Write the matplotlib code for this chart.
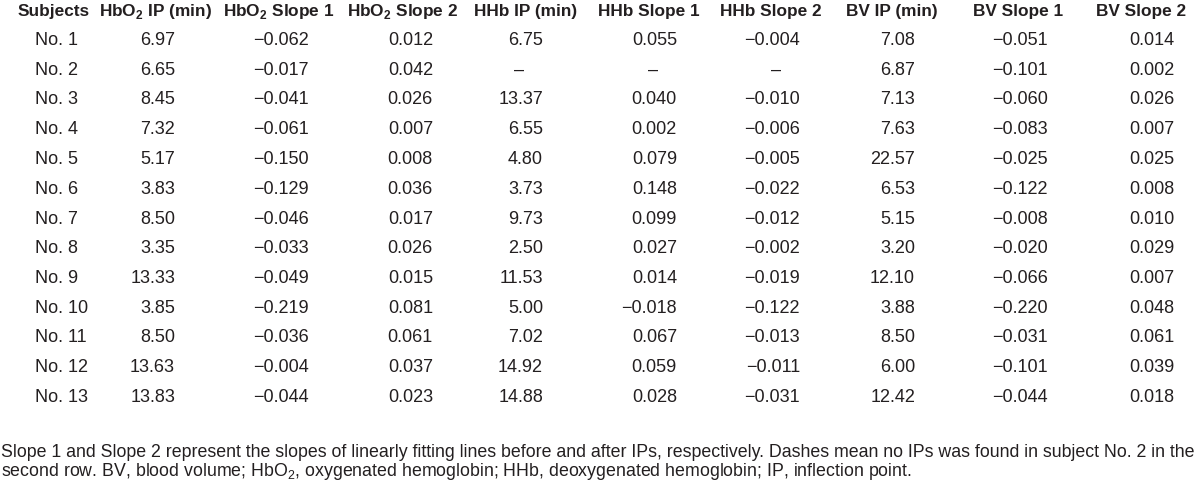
import matplotlib.pyplot as plt
from matplotlib import font_manager

# pick a condensed face if one is installed
names = {f.name for f in font_manager.fontManager.ttflist}
if "Liberation Sans Narrow" in names:
    FONT = "Liberation Sans Narrow"
    HEAD, BODY, NOTE = 13.5, 13.5, 12.5
else:
    FONT = "Liberation Sans"
    HEAD, BODY, NOTE = 12.4, 13.0, 12.8
plt.rcParams["font.family"] = [FONT, "DejaVu Sans"]
plt.rcParams["mathtext.fontset"] = "custom"
plt.rcParams["mathtext.rm"] = FONT
plt.rcParams["mathtext.bf"] = FONT + ":bold"

INK = "#231f20"

headers = ["Subjects", r"HbO$_\mathbf{2}$ IP (min)", r"HbO$_\mathbf{2}$ Slope 1",
           r"HbO$_\mathbf{2}$ Slope 2", "HHb IP (min)", "HHb Slope 1", "HHb Slope 2",
           "BV IP (min)", "BV Slope 1", "BV Slope 2"]

subjects = ["No. %d" % i for i in range(1, 14)]
hbo2_ip = ["6.97", "6.65", "8.45", "7.32", "5.17", "3.83", "8.50", "3.35", "13.33", "3.85", "8.50", "13.63", "13.83"]
hbo2_s1 = ["−0.062", "−0.017", "−0.041", "−0.061", "−0.150", "−0.129", "−0.046", "−0.033", "−0.049", "−0.219", "−0.036", "−0.004", "−0.044"]
hbo2_s2 = ["0.012", "0.042", "0.026", "0.007", "0.008", "0.036", "0.017", "0.026", "0.015", "0.081", "0.061", "0.037", "0.023"]
hhb_ip = ["6.75", "–", "13.37", "6.55", "4.80", "3.73", "9.73", "2.50", "11.53", "5.00", "7.02", "14.92", "14.88"]
hhb_s1 = ["0.055", "–", "0.040", "0.002", "0.079", "0.148", "0.099", "0.027", "0.014", "−0.018", "0.067", "0.059", "0.028"]
hhb_s2 = ["−0.004", "–", "−0.010", "−0.006", "−0.005", "−0.022", "−0.012", "−0.002", "−0.019", "−0.122", "−0.013", "−0.011", "−0.031"]
bv_ip = ["7.08", "6.87", "7.13", "7.63", "22.57", "6.53", "5.15", "3.20", "12.10", "3.88", "8.50", "6.00", "12.42"]
bv_s1 = ["−0.051", "−0.101", "−0.060", "−0.083", "−0.025", "−0.122", "−0.008", "−0.020", "−0.066", "−0.220", "−0.031", "−0.101", "−0.044"]
bv_s2 = ["0.014", "0.002", "0.026", "0.007", "0.025", "0.008", "0.010", "0.029", "0.007", "0.048", "0.061", "0.039", "0.018"]

columns = [subjects, hbo2_ip, hbo2_s1, hbo2_s2, hhb_ip, hhb_s1, hhb_s2, bv_ip, bv_s1, bv_s2]

footnote = [
    "Slope 1 and Slope 2 represent the slopes of linearly fitting lines before and after IPs, "
    "respectively. Dashes mean no IPs was found in subject No. 2 in the",
    r"second row. BV, blood volume; HbO$_2$, oxygenated hemoglobin; HHb, deoxygenated "
    "hemoglobin; IP, inflection point.",
]

# layout in pixels
head_x = [18, 99, 223, 347, 474, 598, 720, 846, 973, 1096]
right_x = [None, 175, 309, 433, 543, 677, 800, 915, 1048, 1174]
head_base = 16
row_base = 45
row_step = 29.75

fig = plt.figure(figsize=(12, 4.82), dpi=100)
ax = fig.add_axes([0, 0, 1, 1])
ax.set_xlim(0, 1200)
ax.set_ylim(482, 0)
ax.axis("off")

for x, h in zip(head_x, headers):
    ax.text(x, head_base, h, ha="left", va="baseline", fontsize=HEAD,
            fontweight="bold", color=INK)

for c, col in enumerate(columns):
    for r, val in enumerate(col):
        y = row_base + r * row_step
        if c == 0:
            ax.text(35, y, val, ha="left", va="baseline", fontsize=BODY, color=INK)
        elif val == "–":
            ax.text(right_x[c] - 24, y, val, ha="center", va="baseline", fontsize=BODY, color=INK)
        else:
            ax.text(right_x[c], y, val, ha="right", va="baseline", fontsize=BODY, color=INK)

for i, line in enumerate(footnote):
    ax.text(1, 457 + i * 19, line, ha="left", va="baseline", fontsize=NOTE, color=INK)

fig.savefig("out.png", dpi=100, facecolor="white")
